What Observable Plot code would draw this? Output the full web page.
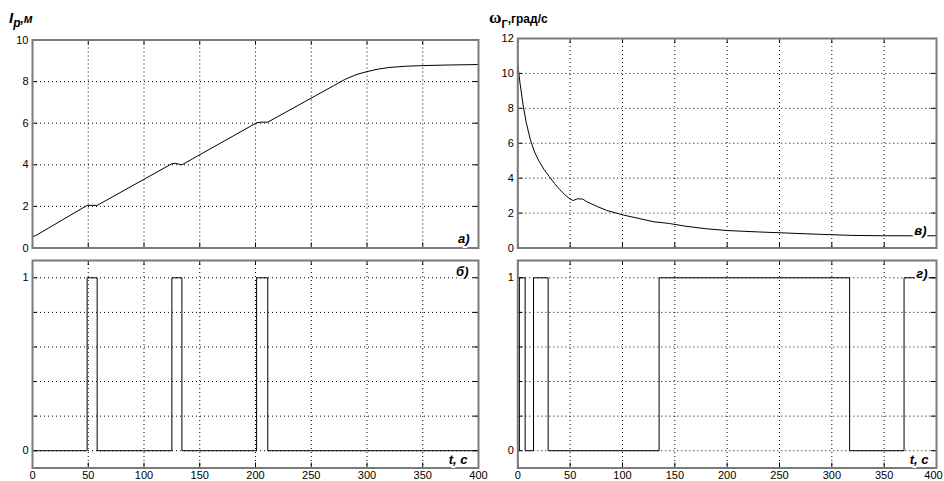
<!DOCTYPE html>
<html><head><meta charset="utf-8">
<script src="https://cdn.jsdelivr.net/npm/d3@7"></script>
<script src="https://cdn.jsdelivr.net/npm/@observablehq/plot@0.6"></script>
<style>
body{margin:0;background:#fff}
#chart{position:relative;width:944px;height:481px;background:#fff;overflow:hidden}
.panel{position:absolute}
.title{position:absolute;font-family:"Liberation Sans",Arial,sans-serif;font-weight:bold;color:#000;white-space:nowrap;line-height:1}
.title span{position:relative}
</style></head><body>
<div id="chart">
  <div class="title" style="left:9px;top:10px;font-style:italic"><span style="font-size:15px">I</span><span style="font-size:12px;top:4px">p</span><span style="font-size:12px">,м</span></div>
  <div class="title" style="left:489px;top:9px"><span style="font-size:17px;font-family:'Liberation Serif',serif">ω</span><span style="font-size:11px;top:5px">Г</span><span style="font-size:12px">,град/с</span></div>
</div>
<script>
// ---- data ----
const xTicks = [0, 50, 100, 150, 200, 250, 300, 350, 400];

// panel а) : l_p, m
const lpT = [0, 3, 49, 58, 125, 128, 134, 201, 205, 211, 270, 280, 290, 300, 310, 320, 335, 350, 375, 400];
const lpV = [0.55, 0.6, 2.05, 2.05, 4.05, 4.07, 4.0, 6.02, 6.05, 6.05, 7.8, 8.1, 8.33, 8.48, 8.6, 8.68, 8.74, 8.77, 8.8, 8.82];
const lpTicks = [0, 2, 4, 6, 8, 10];

// panel в) : omega, deg/s
const omT = [0, 2, 5, 8, 12, 16, 20, 25, 30, 35, 40, 45, 50, 53, 57, 62, 66, 75, 85, 100, 115, 130, 138, 145, 160, 180, 200, 230, 260, 290, 320, 350, 400];
const omV = [10.5, 9.5, 8.2, 7.2, 6.2, 5.5, 5.0, 4.5, 4.1, 3.7, 3.35, 3.05, 2.8, 2.72, 2.82, 2.8, 2.65, 2.4, 2.15, 1.9, 1.7, 1.5, 1.45, 1.4, 1.25, 1.1, 1.0, 0.92, 0.85, 0.78, 0.72, 0.7, 0.7];
const omTicks = [0, 2, 4, 6, 8, 10, 12];

// panel б) : switching signal
const sbT = [0, 49, 58, 125, 134, 201, 211, 400];
const sbV = [0, 1, 0, 1, 0, 1, 0, 0];

// panel г) : switching signal
const sgT = [0, 1.5, 7, 15, 29, 135, 317, 369, 400];
const sgV = [0, 1, 0, 1, 0, 1, 0, 1, 1];

const sTicks = [0, 0.2, 0.4, 0.6, 0.8, 1];
const sLabels = [0, 1];

const rows = (T, V) => T.map((t, i) => ({t, v: V[i]}));

function panel(o) {
  const iw = o.width - o.ml - o.mr, ih = o.height - o.mt - o.mb;
  const grid = {stroke: "#000", strokeOpacity: 1, strokeDasharray: "1,3", strokeWidth: 1};
  const lab = {fontFamily: "Liberation Sans, Arial, sans-serif", fontWeight: "bold", fontStyle: "italic", fontSize: 13, fill: "#000", stroke: "#fff", strokeWidth: 4};
  const marks = [
    Plot.gridX(xTicks, grid),
    Plot.gridY(o.yTicks, grid),
    Plot.tickX(xTicks, {x: d => d, insetTop: ih - 5, stroke: "#000"}),
    Plot.tickX(xTicks, {x: d => d, insetBottom: ih - 5, stroke: "#000"}),
    Plot.tickY(o.yTicks, {y: d => d, insetRight: iw - 5, stroke: "#000"}),
    Plot.tickY(o.yTicks, {y: d => d, insetLeft: iw - 5, stroke: "#000"}),
    Plot.line(o.data, {x: "t", y: "v", curve: o.curve || "linear", stroke: "#000", strokeWidth: 1}),
    Plot.frame({stroke: "#7a7a7a", strokeWidth: 2}),
    Plot.axisY(o.yLabels, {tickSize: 0, tickPadding: 4, fontSize: 11, label: null, tickFormat: d => String(d)})
  ];
  if (o.xLabels) {
    const last = xTicks[xTicks.length - 1];
    marks.push(Plot.axisX(xTicks.slice(0, -1), {tickSize: 0, tickPadding: 3, fontSize: 11, label: null, tickFormat: d => String(d)}));
    marks.push(Plot.axisX([last], {tickSize: 0, tickPadding: 3, fontSize: 11, label: null, tickFormat: d => String(d), dx: o.lastDx || 0}));
    marks.push(Plot.text(["t, c"], {...lab, frameAnchor: "bottom-right", textAnchor: "end", lineAnchor: "bottom", dx: o.tdx, dy: -4}));
  }
  marks.push(Plot.text([o.label], {...lab, frameAnchor: o.labelAnchor, textAnchor: "end",
    lineAnchor: o.labelAnchor.startsWith("top") ? "top" : "bottom", dx: o.ldx, dy: o.ldy}));
  const svg = Plot.plot({
    width: o.width, height: o.height,
    marginLeft: o.ml, marginRight: o.mr, marginTop: o.mt, marginBottom: o.mb,
    x: {domain: [0, 400], axis: null},
    y: {domain: o.yDomain, axis: null},
    style: {fontFamily: "Liberation Sans, Arial, sans-serif", fontSize: "11px", color: "#000", background: "transparent", overflow: "visible"},
    marks
  });
  svg.classList.add("panel");
  svg.style.left = o.left + "px";
  svg.style.top = o.top + "px";
  svg.style.position = "absolute";
  document.getElementById("chart").appendChild(svg);
}

panel({left: 0, top: 0, width: 490, height: 254, ml: 32, mr: 12, mt: 39.5, mb: 6.5,
  data: rows(lpT, lpV), yDomain: [0, 10], yTicks: lpTicks, yLabels: lpTicks,
  label: "а)", labelAnchor: "bottom-right", ldx: -9, ldy: -5});
panel({left: 0, top: 254, width: 490, height: 227, ml: 32, mr: 12, mt: 6, mb: 13.5,
  data: rows(sbT, sbV), curve: "step-after", yDomain: [-0.1, 1.1], yTicks: sTicks, yLabels: sLabels,
  label: "б)", labelAnchor: "top-right", ldx: -10, ldy: 6, xLabels: true, tdx: -11});
panel({left: 490, top: 0, width: 454, height: 254, ml: 27.3, mr: 8, mt: 38, mb: 6.5,
  data: rows(omT, omV), yDomain: [0, 12], yTicks: omTicks, yLabels: omTicks,
  label: "в)", labelAnchor: "bottom-right", ldx: -10, ldy: -13});
panel({left: 490, top: 254, width: 454, height: 227, ml: 27.3, mr: 8, mt: 6, mb: 13.5,
  data: rows(sgT, sgV), curve: "step-after", yDomain: [-0.1, 1.1], yTicks: sTicks, yLabels: sLabels,
  label: "г)", labelAnchor: "top-right", ldx: -9, ldy: 8, xLabels: true, tdx: -8, lastDx: -3});
</script>
</body></html>
